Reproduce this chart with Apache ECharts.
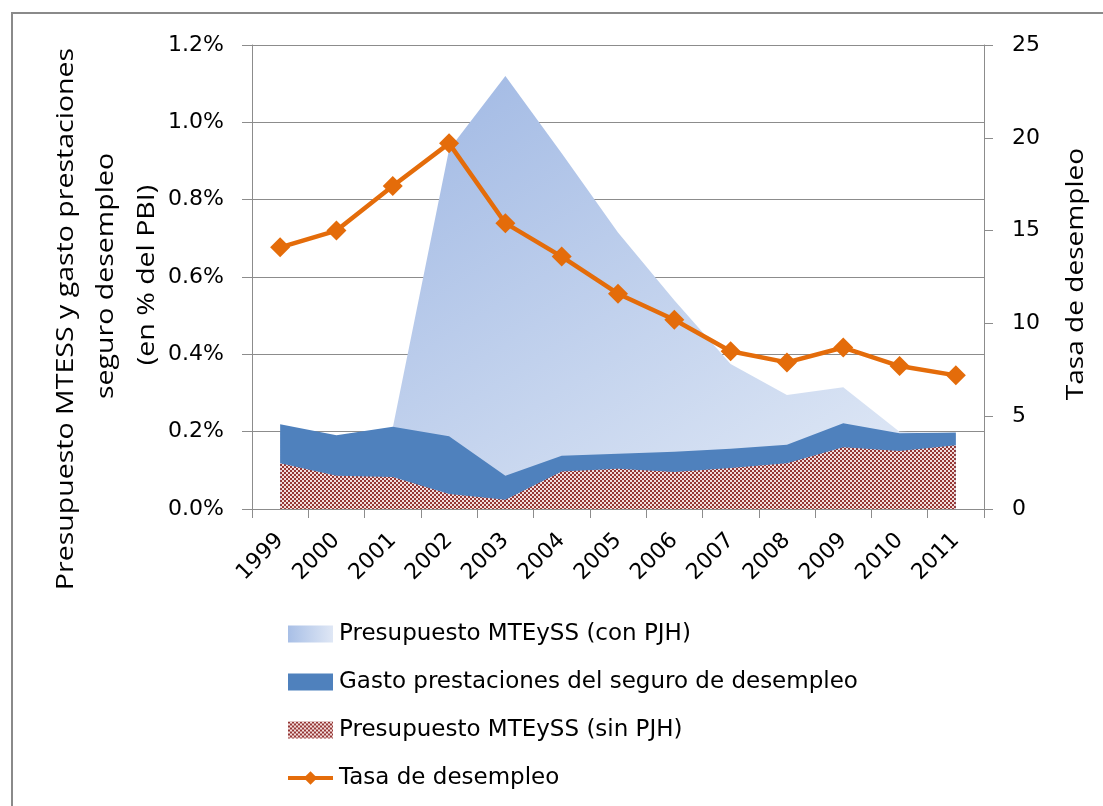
<!DOCTYPE html>
<html>
<head>
<meta charset="utf-8">
<script src="https://cdn.jsdelivr.net/npm/echarts@6/dist/echarts.min.js"></script>
<style>
html,body{margin:0;padding:0;background:#fff;}
#chart{width:1103px;height:806px;}
</style>
</head>
<body>
<div id="chart"></div>
<script>
const years = ['1999','2000','2001','2002','2003','2004','2005','2006','2007','2008','2009','2010','2011'];
const conPJH = [0.20, 0.18, 0.21, 0.93, 1.12, 0.92, 0.715, 0.54, 0.375, 0.295, 0.315, 0.20, 0.195];
const gastoPrest = [0.219, 0.191, 0.213, 0.188, 0.086, 0.138, 0.143, 0.148, 0.156, 0.166, 0.222, 0.196, 0.198];
const sinPJH = [0.118, 0.086, 0.083, 0.039, 0.024, 0.097, 0.104, 0.096, 0.106, 0.118, 0.160, 0.150, 0.165];
const tasa = [14.1, 15.0, 17.4, 19.7, 15.4, 13.6, 11.6, 10.2, 8.5, 7.9, 8.7, 7.7, 7.2];
const leftTitle = ['Presupuesto MTESS y gasto prestaciones', 'seguro desempleo', '(en % del PBI)'];
const rightTitle = 'Tasa de desempleo';

const FONT = 'DejaVu Sans';
const TFONT = '23px "Open Sans"';
const chart = echarts.init(document.getElementById('chart'));

// checkerboard pattern for "sin PJH"
const pc = document.createElement('canvas');
pc.width = 4; pc.height = 4;
const pctx = pc.getContext('2d');
pctx.fillStyle = '#f3dede'; pctx.fillRect(0,0,4,4);
pctx.fillStyle = '#953735';
pctx.fillRect(0,0,2,2); pctx.fillRect(2,2,2,2);
const pattern = {image: pc, repeat: 'repeat'};

const lightGrad = new echarts.graphic.LinearGradient(0.3, 0, 0.7, 1, [
  {offset:0, color:'#a5bce5'}, {offset:1, color:'#dae4f4'}]);
const lightLegend = new echarts.graphic.LinearGradient(0, 0, 1, 0, [
  {offset:0, color:'#a8bfe6'}, {offset:1, color:'#dfe7f5'}]);

const gridColor = '#8c8c8c';
const titleX = [66, 106, 147];
const titleY = [319, 276, 275];

const graphics = [
  {type:'rect', shape:{x:12, y:13, width:1200, height:900}, style:{fill:'none', stroke:'#8a8a8a', lineWidth:2}, z:-1},
  {type:'text', x:1076, y:274, rotation: Math.PI/2, scaleX:1.22,
   style:{text: rightTitle, font: TFONT, fill:'#000', align:'center', verticalAlign:'middle'}}
];
leftTitle.forEach((t, i) => graphics.push({
  type:'text', x:titleX[i], y:titleY[i], rotation: Math.PI/2, scaleX:1.24,
  style:{text:t, font: TFONT, fill:'#000', align:'center', verticalAlign:'middle'}
}));

chart.setOption({
  animation: false,
  textStyle: {fontFamily: FONT},
  grid: {left: 252, right: 119, top: 45, bottom: 297, containLabel: false},
  graphic: graphics,
  legend: {
    orient: 'vertical', left: 286, top: 622, padding: 0,
    itemWidth: 45, itemHeight: 17, itemGap: 24,
    textStyle: {fontSize: 23, lineHeight: 24, color:'#000', fontFamily: FONT, padding:[0,0,0,1]},
    data: [
      {name:'Presupuesto MTEySS (con PJH)', icon:'rect', itemStyle:{color: lightLegend}},
      {name:'Gasto prestaciones del seguro de desempleo', icon:'rect', itemStyle:{color:'#4f81bd'}},
      {name:'Presupuesto MTEySS (sin PJH)', icon:'rect', itemStyle:{color: pattern}},
      {name:'Tasa de desempleo', lineStyle:{width:4, color:'#e46c0a'}}
    ]
  },
  xAxis: {
    type:'category', data: years, boundaryGap: true,
    axisLine:{lineStyle:{color:gridColor, width:1}},
    axisTick:{show:true, length:9, lineStyle:{color:gridColor}},
    axisLabel:{rotate:45, fontSize:22, color:'#000', margin:28, fontFamily: FONT}
  },
  yAxis: [
    {type:'value', min:0, max:1.2, interval:0.2,
     axisLine:{show:true, lineStyle:{color:gridColor}},
     axisTick:{show:true, length:10, lineStyle:{color:gridColor}},
     splitLine:{show:true, lineStyle:{color:gridColor, width:1}},
     axisLabel:{fontSize:22, color:'#000', margin:28, fontFamily: FONT,
                formatter: v => v.toFixed(1) + '%'}},
    {type:'value', min:0, max:25, interval:5, position:'right',
     axisLine:{show:true, lineStyle:{color:gridColor}},
     axisTick:{show:true, length:9, lineStyle:{color:gridColor}},
     splitLine:{show:false},
     axisLabel:{fontSize:22, color:'#000', margin:28, fontFamily: FONT}}
  ],
  series: [
    {name:'Presupuesto MTEySS (con PJH)', type:'line', data: conPJH, yAxisIndex:0,
     symbol:'none', lineStyle:{width:0, color:'#a8bfe6'}, itemStyle:{color:'#a8bfe6'},
     areaStyle:{color: lightGrad, opacity:1}, z:1},
    {name:'Gasto prestaciones del seguro de desempleo', type:'line', data: gastoPrest, yAxisIndex:0,
     symbol:'none', lineStyle:{width:0, color:'#4f81bd'}, itemStyle:{color:'#4f81bd'},
     areaStyle:{color:'#4f81bd', opacity:1}, z:2},
    {name:'Presupuesto MTEySS (sin PJH)', type:'line', data: sinPJH, yAxisIndex:0,
     symbol:'none', lineStyle:{width:0, color:'#953735'}, itemStyle:{color:'#953735'},
     areaStyle:{color: pattern, opacity:1}, z:3},
    {name:'Tasa de desempleo', type:'line', data: tasa, yAxisIndex:1,
     symbol:'diamond', symbolSize:20, showAllSymbol:true,
     lineStyle:{width:4.5, color:'#e46c0a'}, itemStyle:{color:'#e46c0a'}, z:4}
  ]
});
</script>
</body>
</html>
